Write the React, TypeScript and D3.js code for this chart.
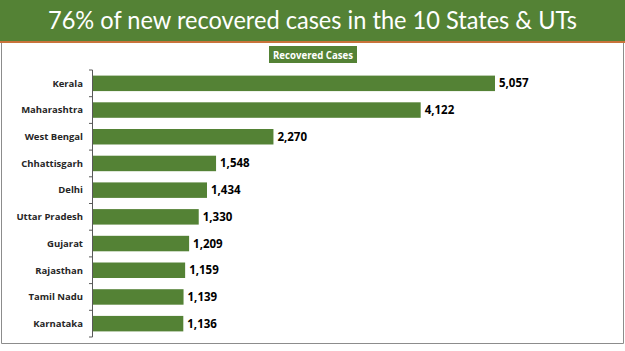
import React from "react";
import * as d3 from "d3";

const states = [
  "Kerala",
  "Maharashtra",
  "West Bengal",
  "Chhattisgarh",
  "Delhi",
  "Uttar Pradesh",
  "Gujarat",
  "Rajasthan",
  "Tamil Nadu",
  "Karnataka",
];
const recovered = [5057, 4122, 2270, 1548, 1434, 1330, 1209, 1159, 1139, 1136];

const title = "76% of new recovered cases in the 10 States & UTs";
const legendLabel = "Recovered Cases";

export default function App() {
  const W = 625;
  const H = 351;
  const green = "#548235";

  // plot area
  const left = 93;
  const top = 70;
  const bottom = 337;

  const x = d3.scaleLinear().domain([0, 5057]).range([0, 402]);
  const y = d3.scaleBand().domain(states).range([top, bottom]).paddingInner(0.42).paddingOuter(0.21);
  const step = (bottom - top) / states.length;
  const fmt = d3.format(",");

  return (
    <svg
      width={W}
      height={H}
      style={{ position: "absolute", left: 0, top: 0, display: "block" }}
    >
      <rect x={0} y={0} width={W} height={H} fill="#fff" />
      {/* header banner */}
      <rect x={0} y={0} width={W} height={41} fill={green} />
      <rect x={0} y={41} width={W} height={2} fill="#C8733A" />
      <text
        x={312.5}
        y={29}
        textAnchor="middle"
        fill="#fff"
        fontFamily="Lato, 'Open Sans', sans-serif"
        fontSize={25.5}
        textLength={529}
        lengthAdjust="spacingAndGlyphs"
      >
        {title}
      </text>

      {/* panel border */}
      <path
        d={`M1.5,43 V343.5 H623.5 V43`}
        fill="none"
        stroke="#8c8c8c"
        strokeWidth={1}
      />

      {/* legend */}
      <rect x={269} y={46} width={88} height={17} fill={green} />
      <text
        x={313}
        y={58.5}
        textAnchor="middle"
        fill="#fff"
        fontFamily="'Open Sans', sans-serif"
        fontWeight="bold"
        fontSize={10.5}
        textLength={80}
        lengthAdjust="spacingAndGlyphs"
      >
        {legendLabel}
      </text>

      {/* axis */}
      <line x1={left - 0.5} x2={left - 0.5} y1={top} y2={bottom} stroke="#595959" />
      {d3.range(states.length + 1).map((i) => (
        <line
          key={i}
          x1={left - 4}
          x2={left - 0.5}
          y1={top + i * step}
          y2={top + i * step}
          stroke="#595959"
        />
      ))}

      {states.map((s, i) => {
        const yy = y(s)!;
        const bw = y.bandwidth();
        return (
          <g key={s}>
            <rect x={left} y={yy} width={x(recovered[i])} height={bw} fill={green} />
            <text
              x={left - 10}
              y={yy + bw / 2}
              dy="0.35em"
              textAnchor="end"
              fontFamily="'Open Sans', sans-serif"
              fontWeight="bold"
              fontSize={9.5}
              fill="#262626"
            >
              {s}
            </text>
            <text
              x={left + x(recovered[i]) + 4}
              y={yy + bw / 2}
              dy="0.35em"
              fontFamily="'Open Sans', sans-serif"
              fontWeight="bold"
              fontSize={11.5}
              fill="#000"
            >
              {fmt(recovered[i])}
            </text>
          </g>
        );
      })}
    </svg>
  );
}
